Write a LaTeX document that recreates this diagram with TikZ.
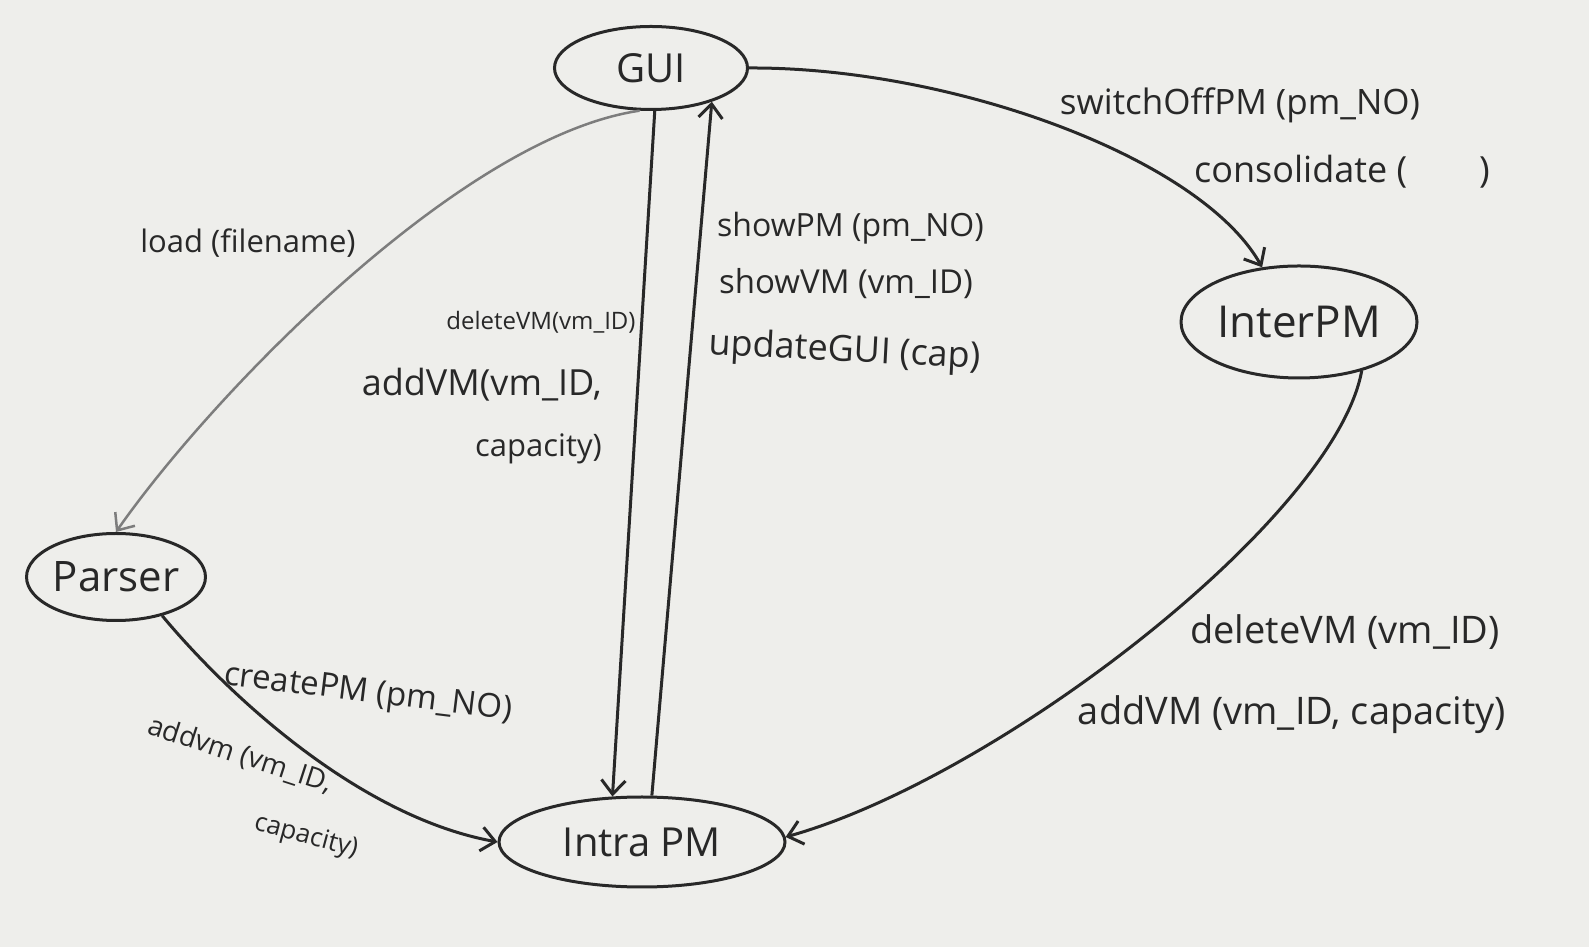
\documentclass[tikz,border=0pt]{standalone}
\usepackage{fontspec}
\setmainfont{Open Sans}
\usetikzlibrary{shapes.geometric,arrows.meta}
\definecolor{paper}{RGB}{238,238,235}
\definecolor{ink}{RGB}{40,40,40}
\definecolor{pencil}{RGB}{125,125,125}
\begin{document}
\begin{tikzpicture}[x=1pt,y=1pt,
  state/.style={ellipse, draw=ink, line width=3pt, inner sep=0pt, text=ink,
    font=\fontsize{40}{48}\selectfont},
  edge/.style={draw=ink, line width=3pt,
    -{Straight Barb[length=14pt,width=24pt]}},
  lbl/.style={text=ink, inner sep=0pt, font=\fontsize{32}{40}\selectfont},
]
% paper sheet
\fill[paper] (0,0) rectangle (1589,947);
\useasboundingbox (0,0) rectangle (1589,947);

% states
\node[state, minimum width=193pt, minimum height=83pt] (gui) at (651,879) {GUI};
\node[state, minimum width=236pt, minimum height=112pt,
      font=\fontsize{44}{52}\selectfont] (inter) at (1299,625) {InterPM};
\node[state, minimum width=167pt, minimum height=87pt,
      font=\fontsize{42}{50}\selectfont] (parser) at (116,370) {Parser};
\node[state, minimum width=286pt, minimum height=90pt] (intra) at (642,105) {Intra PM};

% transitions
\draw[edge, draw=pencil, line width=2.5pt]
  (gui.255) .. controls (460,810) and (210,550) .. (parser.90);
\draw[edge] (gui.0) .. controls (950,880) and (1200,790) .. (inter.124);
\draw[edge] (gui.275) -- (intra.123);
\draw[edge] (intra.78) -- (gui.331);
\draw[edge] (parser.320) .. controls (230,250) and (360,130) .. (intra.180);
\draw[edge] (inter.322) .. controls (1335,430) and (1000,170) .. (intra.2);

% transition labels
\node[lbl, font=\fontsize{31}{36}\selectfont] (lload) at (248,704) {load (filename)};
\node[lbl, font=\fontsize{35}{42}\selectfont] (lswitch) at (1240,842) {switchOffPM (pm\_NO)};
\node[lbl, font=\fontsize{36}{42}\selectfont] (lcons) at (1342,775) {consolidate (\quad\quad)};
\node[lbl, font=\fontsize{24}{30}\selectfont] (ldel) at (541,625) {deleteVM(vm\_ID)};
\node[lbl, align=right, anchor=east, font=\fontsize{31}{61}\selectfont]
  (ladd) at (602,531) {{\fontsize{36}{61}\selectfont addVM(vm\_ID,}\\capacity)};
\node[lbl, anchor=west] (lshowpm) at (717,719) {showPM (pm\_NO)};
\node[lbl, anchor=west, font=\fontsize{33}{40}\selectfont] (lshowvm) at (719,663) {showVM (vm\_ID)};
\node[lbl, anchor=west, rotate=-3, font=\fontsize{36}{42}\selectfont] (lupd) at (709,602) {updateGUI (cap)};
\node[lbl, rotate=-7, font=\fontsize{33}{40}\selectfont] (lcreate) at (368,253) {createPM (pm\_NO)};
\node[lbl, rotate=-18, font=\fontsize{28}{34}\selectfont] (laddvm) at (240,192) {addvm (vm\_ID,};
\node[lbl, rotate=-15, font=\fontsize{26}{32}\selectfont] (lcap) at (306,110) {capacity)};
\node[lbl, font=\fontsize{38}{44}\selectfont] (ldelvm) at (1345,315) {deleteVM (vm\_ID)};
\node[lbl, font=\fontsize{38}{44}\selectfont] (laddvm2) at (1292,232) {addVM (vm\_ID, capacity)};
\end{tikzpicture}
\end{document}
